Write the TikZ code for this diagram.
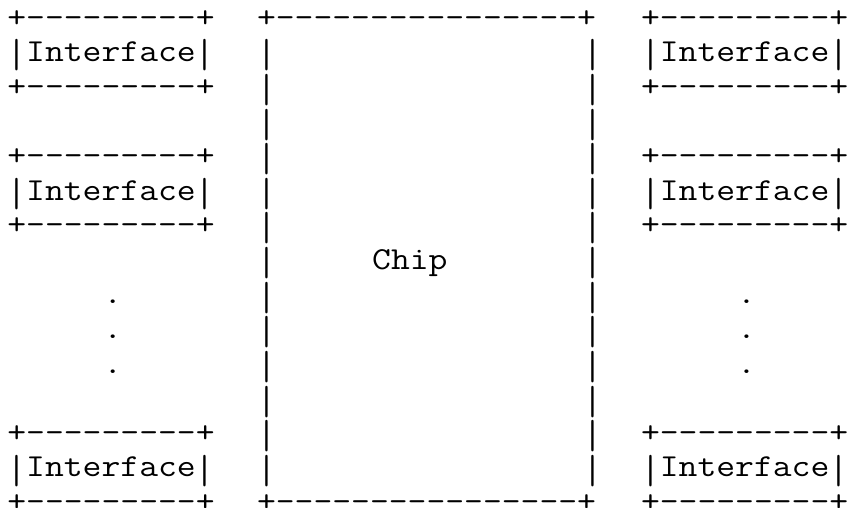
\documentclass[tikz,border=0pt]{standalone}
\usepackage{fontspec}
\setmonofont[FakeStretch=1.143]{Latin Modern Mono}
\newcommand\vb{\raisebox{-6.3pt}{\scalebox{1}[1.27]{|}}}
\tikzset{asc/.style={anchor=base west, inner sep=0pt, outer sep=0pt,
  font=\ttfamily\fontsize{32}{34.6}\selectfont, text=black}}
\begin{document}
\begin{tikzpicture}
\useasboundingbox (0pt,0pt) rectangle (854pt,-508pt);
\begin{scope}[shift={(7.4pt,-27.1pt)}, x=19.2pt, y=-34.6pt]
% row 1
\node[asc] (l1a) at (0,0) {+---------+};
\node[asc] (m1) at (13,0) {+----------------+};
\node[asc] (r1a) at (33,0) {+---------+};
% row 2
\node[asc] (l1b) at (0,1) {\vb Interface\vb};
\node[asc] (ml2) at (13,1) {\vb};
\node[asc] (mr2) at (30,1) {\vb};
\node[asc] (r1b) at (33,1) {\vb Interface\vb};
% row 3
\node[asc] (l1c) at (0,2) {+---------+};
\node[asc] (ml3) at (13,2) {\vb};
\node[asc] (mr3) at (30,2) {\vb};
\node[asc] (r1c) at (33,2) {+---------+};
% row 4
\node[asc] (ml4) at (13,3) {\vb};
\node[asc] (mr4) at (30,3) {\vb};
% row 5
\node[asc] (l2a) at (0,4) {+---------+};
\node[asc] (ml5) at (13,4) {\vb};
\node[asc] (mr5) at (30,4) {\vb};
\node[asc] (r2a) at (33,4) {+---------+};
% row 6
\node[asc] (l2b) at (0,5) {\vb Interface\vb};
\node[asc] (ml6) at (13,5) {\vb};
\node[asc] (mr6) at (30,5) {\vb};
\node[asc] (r2b) at (33,5) {\vb Interface\vb};
% row 7
\node[asc] (l2c) at (0,6) {+---------+};
\node[asc] (ml7) at (13,6) {\vb};
\node[asc] (mr7) at (30,6) {\vb};
\node[asc] (r2c) at (33,6) {+---------+};
% row 8
\node[asc] (ml8) at (13,7) {\vb};
\node[asc] (chip) at (19,7) {Chip};
\node[asc] (mr8) at (30,7) {\vb};
% rows 9-11
\node[asc] (ld1) at (5,8) {.};
\node[asc] (ml9) at (13,8) {\vb};
\node[asc] (mr9) at (30,8) {\vb};
\node[asc] (rd1) at (38,8) {.};
\node[asc] (ld2) at (5,9) {.};
\node[asc] (ml10) at (13,9) {\vb};
\node[asc] (mr10) at (30,9) {\vb};
\node[asc] (rd2) at (38,9) {.};
\node[asc] (ld3) at (5,10) {.};
\node[asc] (ml11) at (13,10) {\vb};
\node[asc] (mr11) at (30,10) {\vb};
\node[asc] (rd3) at (38,10) {.};
% row 12
\node[asc] (ml12) at (13,11) {\vb};
\node[asc] (mr12) at (30,11) {\vb};
% row 13
\node[asc] (l3a) at (0,12) {+---------+};
\node[asc] (ml13) at (13,12) {\vb};
\node[asc] (mr13) at (30,12) {\vb};
\node[asc] (r3a) at (33,12) {+---------+};
% row 14
\node[asc] (l3b) at (0,13) {\vb Interface\vb};
\node[asc] (ml14) at (13,13) {\vb};
\node[asc] (mr14) at (30,13) {\vb};
\node[asc] (r3b) at (33,13) {\vb Interface\vb};
% row 15
\node[asc] (l3c) at (0,14) {+---------+};
\node[asc] (m15) at (13,14) {+----------------+};
\node[asc] (r3c) at (33,14) {+---------+};
\end{scope}
\end{tikzpicture}
\end{document}
